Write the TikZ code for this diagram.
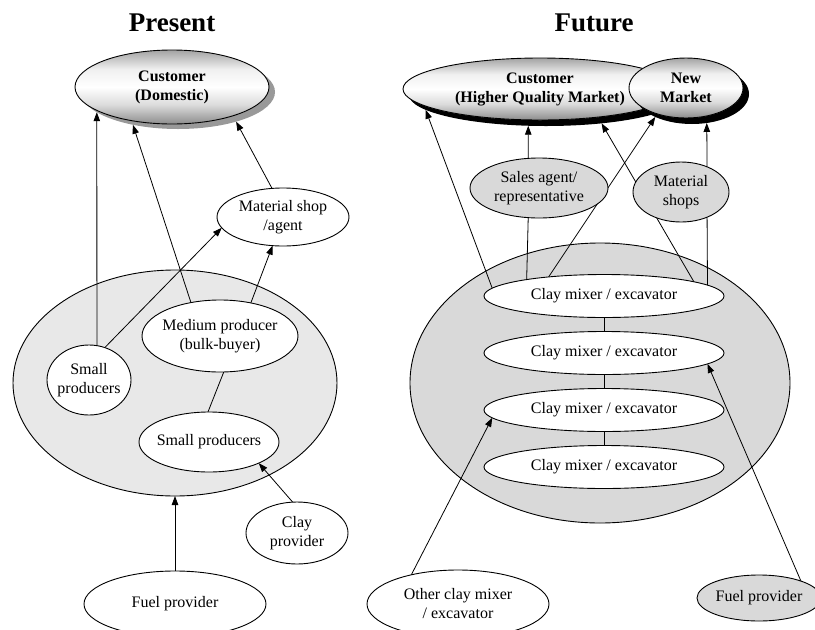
\documentclass[tikz,border=0pt]{standalone}
\usepackage{fontspec}
\setmainfont{Liberation Serif}
\usetikzlibrary{shapes.geometric,arrows.meta}
\pgfdeclarelayer{back}
\pgfdeclarelayer{links}
\pgfsetlayers{back,links,main}
% grey rim, white centre (the node spans 25bp..75bp)
\pgfdeclareverticalshading{marketshade}{100bp}{%
  color(0bp)=(black!45); color(25bp)=(black!45); color(38bp)=(black!14);
  color(50bp)=(white); color(62bp)=(black!6); color(75bp)=(black!36);
  color(100bp)=(black!36)}

\begin{document}
\begin{tikzpicture}[x=1pt,y=-1pt,
  every node/.style={font=\fontsize{16}{19}\selectfont},
  oval/.style={ellipse, draw, line width=0.9pt, fill=white, inner sep=-3pt,
    outer sep=0pt, align=center},
  greyoval/.style={oval, fill=black!15},
  zone/.style={ellipse, draw, line width=0.9pt, inner sep=0pt, outer sep=0pt},
  market/.style={oval, font=\fontsize{16}{19}\selectfont\bfseries,
    shading=marketshade},
  drop/.style={ellipse, inner sep=0pt, outer sep=0pt},
  title/.style={font=\fontsize{27}{32}\selectfont\bfseries},
  link/.style={line width=0.8pt},
  arr/.style={link, -{Triangle[length=9pt,width=6.5pt]}}
]
\useasboundingbox (0,0) rectangle (815,630);

% headings
\node[title] (tPresent) at (172,23) {Present};
\node[title] (tFuture)  at (594,23) {Future};

% ---------------- present situation ----------------
\begin{pgfonlayer}{back}
  \node[zone, fill=black!9, minimum width=324pt, minimum height=226pt] (bigL) at (175,383) {};
\end{pgfonlayer}

\node[drop, fill=black!40, minimum width=194pt, minimum height=74pt] (custDsh) at (178,92) {};
\node[market, minimum width=194pt, minimum height=74pt] (custD) at (172,87) {Customer\\(Domestic)};

\node[oval, minimum width=132pt, minimum height=58pt] (mshop) at (283,217) {Material shop\\/agent};
\node[oval, minimum width=84pt, minimum height=70pt] (smallA) at (89,380) {Small\\producers};
\node[oval, minimum width=156pt, minimum height=72pt] (medium) at (220,336) {Medium producer\\(bulk-buyer)};
\node[oval, minimum width=140pt, minimum height=60pt] (smallB) at (209,442) {Small producers};
\node[oval, minimum width=102pt, minimum height=62pt] (clayP) at (297,533) {Clay\\provider};
\node[oval, minimum width=182pt, minimum height=66pt] (fuelL) at (175,604) {Fuel provider};

\begin{pgfonlayer}{links}
  \draw[arr]  (smallA.77)  -- (custDsh.194.5);
  \draw[arr]  (smallA.64)  -- (mshop.190);
  \draw[arr]  (medium.131) -- (custDsh.216);
  \draw[arr]  (medium.47)  -- (mshop.250);
  \draw[arr]  (mshop.111)  -- (custDsh.333);
  \draw[link] (smallB.92)  -- (medium.276);
  \draw[arr]  (clayP.98)   -- (smallB.337);
  \draw[arr]  (fuelL.north) -- (bigL.south);
\end{pgfonlayer}

% ---------------- future situation ----------------
\begin{pgfonlayer}{back}
  \node[zone, fill=black!15, minimum width=380pt, minimum height=280pt] (bigR) at (600,383) {};
\end{pgfonlayer}

\node[drop, fill=black, minimum width=274pt, minimum height=62pt] (custHsh) at (546,95) {};
\node[market, minimum width=274pt, minimum height=62pt] (custH) at (540,89) {Customer\\(Higher Quality Market)};
\node[drop, fill=black, minimum width=114pt, minimum height=60pt] (newMsh) at (692,94) {};
\node[market, minimum width=114pt, minimum height=60pt] (newM) at (686,88) {New\\Market};

\node[greyoval, minimum width=138pt, minimum height=60pt] (sales) at (539,188) {Sales agent/\\representative};
\node[greyoval, minimum width=96pt, minimum height=60pt] (mshops) at (681,192) {Material\\shops};

\foreach \i/\y in {1/296,2/353,3/410,4/467}
  \node[oval, minimum width=240pt, minimum height=43pt] (cm\i) at (604,\y) {Clay mixer / excavator};

\node[oval, minimum width=182pt, minimum height=68pt] (other) at (458,604) {Other clay mixer\\/ excavator};
\node[greyoval, minimum width=124pt, minimum height=46pt] (fuelR) at (759,598) {Fuel provider};

\begin{pgfonlayer}{links}
  \draw[arr]  (cm1.176)   -- (custHsh.187);
  \draw[link] (cm1.168)   -- (sales.250);
  \draw[arr]  (sales.110) -- (custHsh.240);
  \draw[arr]  (cm1.161.7) -- (newMsh.212);
  \draw[arr]  (cm1.9)     -- (custHsh.333);
  \draw[link] (cm1.6)     -- (mshops.316);
  \draw[arr]  (mshops.44) -- (newMsh.297);
  \draw[link] (cm1) -- (cm2);
  \draw[link] (cm2) -- (cm3);
  \draw[link] (cm3) -- (cm4);
  \draw[arr]  (other.148) -- (cm3.184);
  \draw[arr]  (fuelR.22)  -- (cm2.354);
\end{pgfonlayer}
\end{tikzpicture}
\end{document}
